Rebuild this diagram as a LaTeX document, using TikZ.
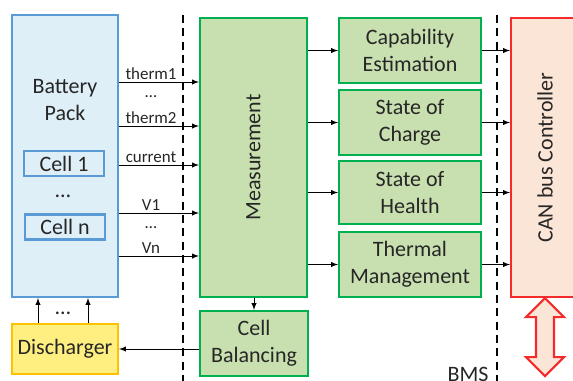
\documentclass[tikz,border=0pt]{standalone}
\usepackage{fontspec}
\setmainfont{Carlito}
\usetikzlibrary{arrows,positioning}

\definecolor{packfill}{HTML}{DEEFF7}
\definecolor{packline}{HTML}{5B9BD5}
\definecolor{bmsfill}{HTML}{C8E0B0}
\definecolor{bmsline}{HTML}{00B050}
\definecolor{dischfill}{HTML}{FFEF80}
\definecolor{dischline}{HTML}{FFC000}
\definecolor{canfill}{HTML}{FBE5D6}
\definecolor{canline}{HTML}{F52A2A}

\newcommand{\boxfont}{\fontsize{16.5}{20.25}\selectfont}
\newcommand{\sigfont}{\fontsize{12.7}{14}\selectfont}

\tikzset{
  packbox/.style={draw=packline, fill=packfill, line width=1.6pt},
  cellbox/.style={draw=packline, fill=packfill, line width=1.6pt, font=\boxfont, minimum width=60pt, minimum height=18.75pt, inner sep=0pt},
  greenbox/.style={draw=bmsline, fill=bmsfill, line width=1.6pt, font=\boxfont},
  dischbox/.style={draw=dischline, fill=dischfill, line width=1.6pt, font=\boxfont},
  canbox/.style={draw=canline, fill=canfill, line width=1.6pt, font=\boxfont},
  sig/.style={-latex, line width=0.75pt},
  siglabel/.style={above, pos=0.4, inner sep=1.5pt, font=\sigfont},
  bmsborder/.style={line width=1.9pt, dash pattern=on 6pt off 4pt},
  busarrow/.style={draw=canline, fill=canfill, line width=1.6pt, line join=miter}
}

\begin{document}
\begin{tikzpicture}[x=0.75pt, y=-0.75pt, every node/.style={align=center, text=black!85}]
\useasboundingbox (0,0) rectangle (573,380);

% Battery side
\node[packbox, minimum width=79.5pt, minimum height=211.5pt] (pack) at (65,156) {};
\node[font=\boxfont] (packname) at (65,100) {Battery\\Pack};
\node[cellbox] (cell1) at (64,163.5) {Cell 1};
\node[font=\boxfont] (celldots) at (63,196) {\dots};
\node[cellbox] (celln) at (65,227) {Cell n};
\node[dischbox, minimum width=79.5pt, minimum height=37.5pt] (disch) at (65,349) {Discharger};
\node[font=\boxfont] (dischdots) at (63,313) {\dots};

% BMS blocks
\node[greenbox, minimum width=80.25pt, minimum height=209.25pt] (meas) at (253.5,157.5) {\rotatebox{90}{Measurement}};
\node[greenbox, minimum width=81pt, minimum height=48.75pt] (bal) at (254,343.5) {Cell\\Balancing};
\node[greenbox, minimum width=106.5pt, minimum height=48.75pt] (cap) at (410,50.5) {Capability\\Estimation};
\node[greenbox, minimum width=106.5pt, minimum height=48.75pt] (soc) at (410,122.5) {State of\\Charge};
\node[greenbox, minimum width=106.5pt, minimum height=47.25pt] (soh) at (410,192.5) {State of\\Health};
\node[greenbox, minimum width=106.5pt, minimum height=48.75pt] (therm) at (410,264.5) {Thermal\\Management};

% CAN bus
\node[canbox, minimum width=51pt, minimum height=209.25pt] (can) at (545,157.5) {\rotatebox{90}{CAN bus Controller}};

% BMS border
\coordinate (bmsleft top) at (183,15);
\coordinate (bmsleft bot) at (183,385);
\coordinate (bmsright top) at (497,15);
\coordinate (bmsright bot) at (497,385);
\draw[bmsborder] (bmsleft top) -- (bmsleft bot);
\draw[bmsborder] (bmsright top) -- (bmsright bot);
\node[font=\boxfont, anchor=base] (bms) at (468,381) {BMS};

% Sensor signals
\foreach \yy/\lbl in {82/therm1, 126/therm2, 165/current, 213/V1, 256/Vn}
  \draw[sig] (pack.east |- 0,\yy) -- node[siglabel] {\lbl} (meas.west |- 0,\yy);
\node[font=\sigfont] (sigdots1) at (151,97) {\dots};
\node[font=\sigfont] (sigdots2) at (151,228) {\dots};

% Arrows
\draw[sig] (meas.east |- cap.west) -- (cap.west);
\draw[sig] (meas.east |- soc.west) -- (soc.west);
\draw[sig] (meas.east |- soh.west) -- (soh.west);
\draw[sig] (meas.east |- therm.west) -- (therm.west);
\draw[sig] (cap.east) -- (can.west |- cap.east);
\draw[sig] (soc.east) -- (can.west |- soc.east);
\draw[sig] (soh.east) -- (can.west |- soh.east);
\draw[sig] (therm.east) -- (can.west |- therm.east);
\draw[sig] (meas.south -| bal.north) -- (bal.north);
\draw[sig] (bal.west |- disch.east) -- (disch.east);
\draw[sig] (disch.north -| 38,0) -- (pack.south -| 38,0);
\draw[sig] (disch.north -| 88,0) -- (pack.south -| 88,0);

% Bus
\draw[busarrow] (can.south) -- ++(19,19) -- ++(-10,0) -- ++(0,40) -- ++(10,0) -- ++(-19,19)
  -- ++(-19,-19) -- ++(10,0) -- ++(0,-40) -- ++(-10,0) -- cycle;
\end{tikzpicture}
\end{document}
